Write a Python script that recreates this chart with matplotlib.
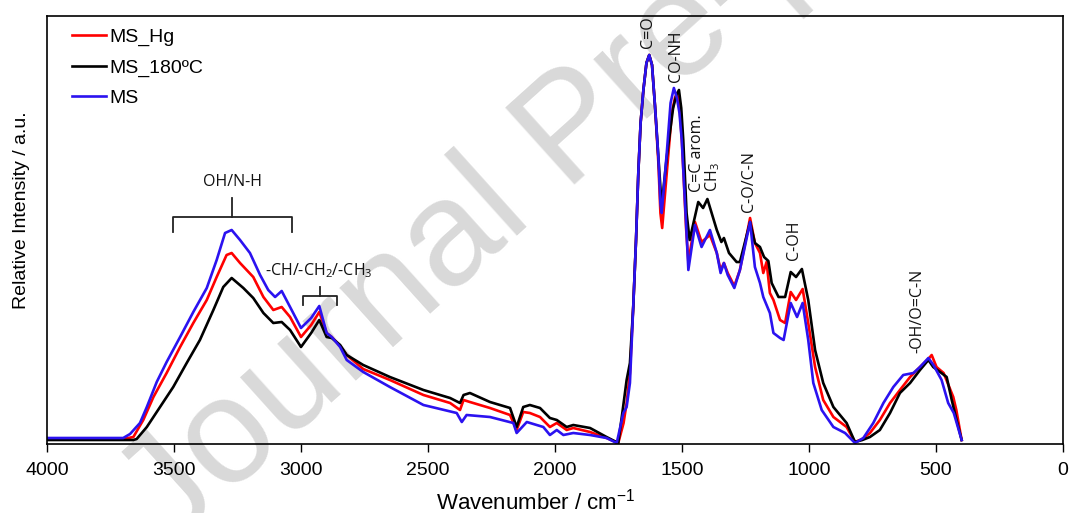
import matplotlib
matplotlib.use("Agg")
import matplotlib.pyplot as plt

plt.rcParams['font.family'] = ['Liberation Sans', 'DejaVu Sans']
plt.rcParams['mathtext.default'] = 'regular'

# ---------------- data ----------------
wn_hg = [4000, 3900, 3800, 3700, 3660, 3621, 3581, 3529, 3476, 3424, 3371, 3332, 3293, 3273,
         3240, 3188, 3148, 3109, 3076, 3043, 3000, 2960, 2928, 2899, 2879, 2846, 2820, 2755,
         2650, 2518, 2413, 2374, 2360, 2335, 2256, 2177, 2151, 2125, 2099, 2059, 2020, 1993,
         1954, 1928, 1862, 1797, 1751, 1730, 1718, 1705, 1692, 1681, 1672, 1663, 1652, 1640,
         1629, 1618, 1606, 1593, 1585, 1578, 1560, 1540, 1528, 1519, 1508, 1500, 1484, 1475,
         1449, 1423, 1390, 1363, 1348, 1335, 1320, 1294, 1272, 1232, 1213, 1193, 1180, 1167,
         1154, 1140, 1114, 1094, 1072, 1051, 1025, 1003, 976, 944, 904, 852, 819, 790, 760,
         721, 681, 642, 602, 563, 530, 517, 498, 470, 432, 420, 399]
ms_hg = [4, 4, 4, 4, 6, 23, 46, 70, 96, 120, 143, 166, 188, 190,
         180, 166, 146, 133, 136, 126, 106, 118, 131, 110, 106, 97, 88, 74,
         63, 48, 40, 33, 43, 41, 35, 28, 13, 31, 30, 26, 16, 20,
         13, 15, 11, 5, 0, 20, 40, 70, 136, 203, 270, 320, 353, 380,
         388, 378, 336, 280, 230, 215, 270, 330, 345, 350, 330, 300, 215, 181,
         221, 201, 208, 190, 173, 180, 170, 157, 173, 225, 200, 190, 170, 181,
         150, 143, 123, 120, 151, 143, 154, 120, 76, 43, 26, 16, 1, 4, 10,
         23, 40, 53, 66, 76, 84, 88, 76, 70, 46, 33, 3]

wn_180 = [4000, 3900, 3800, 3700, 3660, 3647, 3607, 3555, 3503, 3450, 3398, 3345, 3306, 3273,
          3227, 3188, 3148, 3109, 3076, 3043, 3000, 2960, 2928, 2899, 2879, 2846, 2820, 2755,
          2650, 2518, 2413, 2374, 2360, 2335, 2256, 2177, 2151, 2125, 2099, 2059, 2020, 1993,
          1954, 1928, 1862, 1797, 1751, 1735, 1718, 1705, 1692, 1681, 1672, 1663, 1652, 1640,
          1629, 1618, 1606, 1593, 1580, 1560, 1535, 1522, 1512, 1503, 1495, 1482, 1470, 1436,
          1417, 1400, 1363, 1345, 1335, 1315, 1285, 1272, 1232, 1213, 1193, 1177, 1160, 1147,
          1120, 1094, 1072, 1051, 1028, 1003, 976, 944, 904, 852, 819, 790, 760, 721, 681, 642,
          602, 563, 530, 511, 484, 458, 438, 419, 399]
ms_180 = [3, 3, 3, 3, 3, 4, 16, 36, 56, 80, 103, 133, 156, 165,
          155, 145, 130, 120, 121, 113, 96, 110, 123, 106, 105, 98, 88, 78,
          66, 53, 45, 40, 48, 50, 41, 35, 16, 36, 38, 35, 25, 23,
          16, 18, 15, 6, 0, 30, 63, 80, 136, 203, 270, 320, 353, 380,
          388, 378, 336, 286, 237, 286, 335, 348, 353, 335, 303, 230, 203, 241,
          235, 244, 213, 201, 205, 190, 181, 181, 221, 200, 196, 186, 182, 160,
          146, 146, 171, 166, 174, 143, 93, 60, 36, 20, 1, 3, 6, 13, 30, 50,
          60, 73, 83, 76, 71, 66, 43, 23, 3]

wn_ms = [4000, 3900, 3800, 3700, 3673, 3634, 3607, 3568, 3529, 3476, 3424, 3371, 3332, 3299,
         3273, 3240, 3201, 3161, 3129, 3102, 3076, 3043, 3000, 2960, 2928, 2899, 2879, 2846,
         2820, 2755, 2650, 2518, 2387, 2367, 2348, 2256, 2164, 2151, 2111, 2046, 2020, 1993,
         1967, 1928, 1862, 1797, 1757, 1731, 1718, 1705, 1692, 1681, 1672, 1663, 1652, 1640,
         1629, 1618, 1606, 1593, 1585, 1580, 1560, 1545, 1532, 1520, 1510, 1501, 1484, 1475,
         1449, 1423, 1390, 1363, 1348, 1335, 1320, 1294, 1272, 1232, 1213, 1193, 1180, 1167,
         1154, 1140, 1114, 1100, 1072, 1047, 1025, 1003, 983, 950, 904, 858, 819, 786, 747,
         707, 668, 629, 589, 563, 530, 510, 478, 452, 430, 399]
ms_ms = [5, 5, 5, 5, 9, 20, 36, 61, 81, 106, 131, 155, 183, 210,
         213, 203, 190, 168, 153, 146, 152, 136, 115, 125, 137, 110, 106, 96,
         83, 71, 56, 38, 30, 21, 28, 26, 20, 10, 21, 16, 8, 13,
         8, 10, 8, 5, 0, 30, 36, 60, 136, 203, 270, 320, 353, 380,
         388, 378, 336, 286, 240, 230, 290, 340, 355, 345, 330, 303, 220, 173,
         218, 196, 213, 190, 170, 180, 168, 155, 173, 221, 176, 160, 146, 138,
         130, 110, 105, 103, 140, 126, 140, 103, 60, 33, 16, 10, 0, 5, 20,
         40, 56, 68, 70, 76, 85, 78, 63, 40, 30, 3]

series_labels = ['MS_Hg', 'MS_180ºC', 'MS']
series_colors = ['#ff0000', '#000000', '#2b12f0']
x_ticks = [4000, 3500, 3000, 2500, 2000, 1500, 1000, 500, 0]

# ---------------- figure ----------------
fig = plt.figure(figsize=(10.69, 5.13), dpi=100)
ax = fig.add_axes([47 / 1069, (513 - 444) / 513, 1016 / 1069, 428.5 / 513])
ax.set_facecolor('none')

# watermark
fig.text(0.158, -0.07, 'Journal Pre-proof', fontsize=108, color='#d9d9d9',
         rotation=42, rotation_mode='anchor', ha='left', va='baseline', zorder=-5,
         family=['Liberation Sans', 'DejaVu Sans'])

for wn, vals, lab, col in zip([wn_hg, wn_180, wn_ms], [ms_hg, ms_180, ms_ms],
                              series_labels, series_colors):
    ax.plot(wn, vals, color=col, lw=1.9, label=lab, solid_joinstyle='round')

ax.set_xlim(4000, 0)
ax.set_ylim(-1, 427.5)
ax.set_xticks(x_ticks)
ax.set_xticklabels([str(t) for t in x_ticks])
ax.set_yticks([])
ax.tick_params(axis='x', direction='out', length=6, width=1, labelsize=14, pad=7)
for s in ax.spines.values():
    s.set_linewidth(1.2)

ax.set_xlabel('Wavenumber / cm$^{-1}$', fontsize=16)
ax.xaxis.set_label_coords(0.481, -0.105)
ax.set_ylabel('Relative Intensity / a.u.', fontsize=14)
ax.yaxis.set_label_coords(-0.017, 0.545)

leg = ax.legend(loc='upper left', bbox_to_anchor=(0.025, 0.97), frameon=False,
                fontsize=14, handlelength=1.75, handletextpad=0.15, labelspacing=0.66,
                borderpad=0, borderaxespad=0)

# annotations
afont = dict(family=['Open Sans', 'DejaVu Sans'], fontsize=11.5, color='#111111')
bk = dict(color='#222222', lw=1.3)
# OH/N-H bracket
ax.plot([3503, 3503, 3037, 3037], [211, 226, 226, 211], **bk)
ax.plot([3270, 3270], [226, 245], **bk)
ax.text(3270, 257, 'OH/N-H', ha='center', va='baseline', **afont)
# CH bracket
ax.plot([2993, 2993, 2857, 2857], [138, 147, 147, 138], **bk)
ax.plot([2925, 2925], [147, 156], **bk)
ax.text(2931, 168, '-CH/-CH$_2$/-CH$_3$', ha='center', va='baseline', **afont)

vlabels = [(1634, 395, 'C=O'), (1524, 361, 'CO-NH'), (1441, 251, 'C=C arom.'),
           (1378, 251, 'CH$_3$'), (1236, 231, 'C-O/C-N'), (1059, 183, 'C-OH'),
           (575, 90, '-OH/O=C-N')]
for x, y, t in vlabels:
    ax.text(x, y, t, rotation=90, ha='center', va='bottom', **afont)

fig.savefig('out.png', dpi=100)
